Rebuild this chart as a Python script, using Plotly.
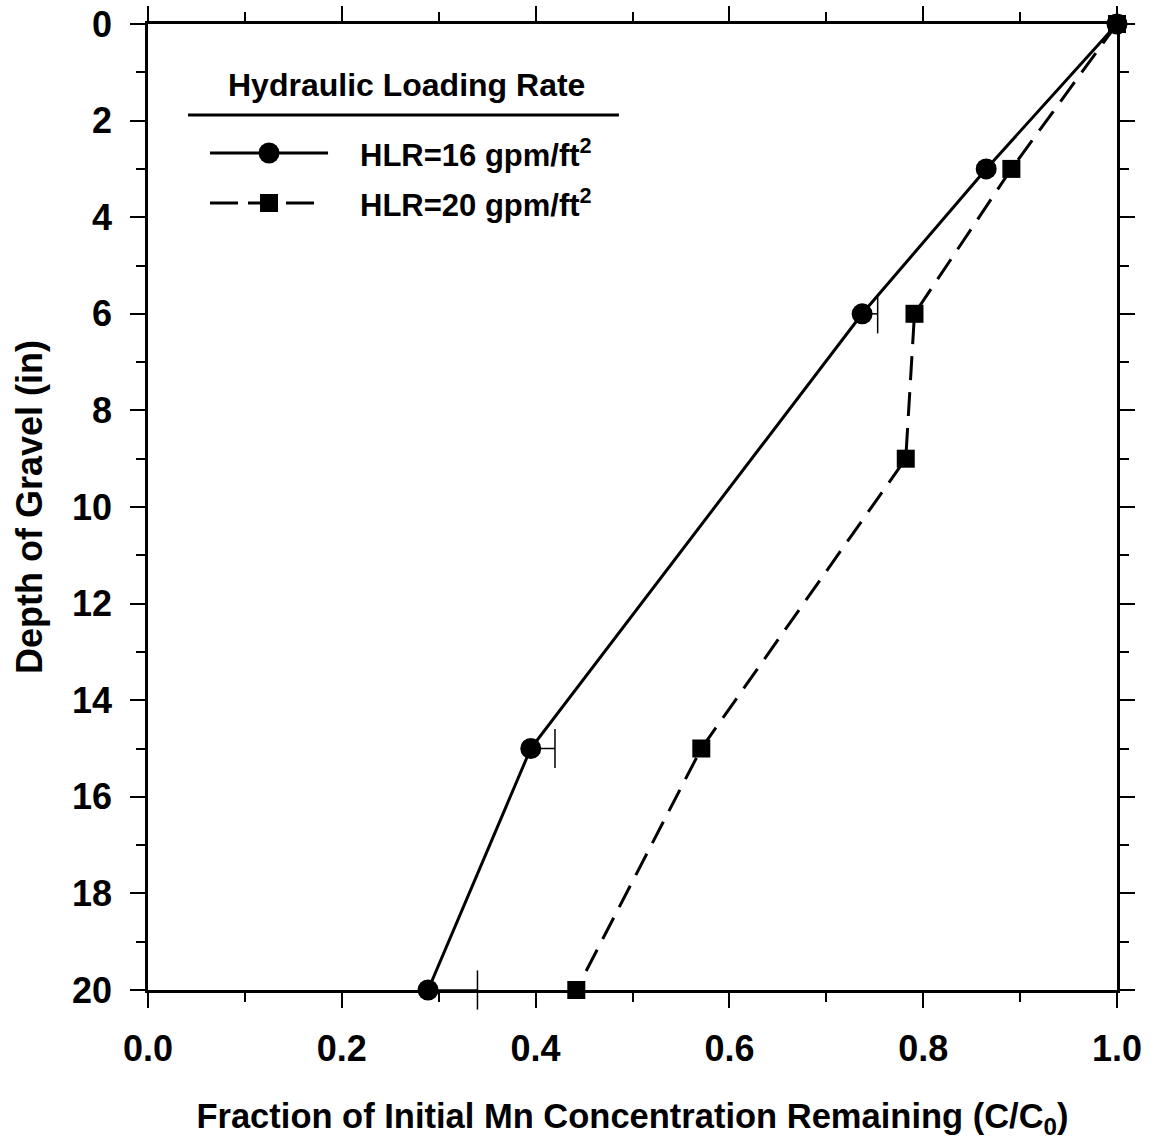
import plotly.graph_objects as go

# ---- data ----
depth_16 = [0, 3, 6, 15, 20]
frac_16 = [1.0, 0.865, 0.737, 0.395, 0.289]
err_16 = [0.0, 0.0, 0.016, 0.025, 0.051]

depth_20 = [0, 3, 6, 9, 15, 20]
frac_20 = [1.0, 0.891, 0.791, 0.782, 0.571, 0.442]

x_ticks = [0.0, 0.2, 0.4, 0.6, 0.8, 1.0]
x_ticklabels = ["0.0", "0.2", "0.4", "0.6", "0.8", "1.0"]
y_ticks = list(range(0, 21, 2))
y_ticklabels = [str(v) for v in y_ticks]

legend_title = "Hydraulic Loading Rate"
name_16 = "HLR=16 gpm/ft<sup>2</sup>"
name_20 = "HLR=20 gpm/ft<sup>2</sup>"

FONT = "Liberation Sans"
BLACK = "black"

fig = go.Figure()

# error bars (plus direction only) built from data
ex, ey, cx, cy = [], [], [], []
for d, f, e in zip(depth_16, frac_16, err_16):
    if e > 0:
        ex += [f, f + e, None]
        ey += [d, d, None]
        cx.append(f + e)
        cy.append(d)
fig.add_trace(go.Scatter(x=ex, y=ey, mode="lines", line=dict(color=BLACK, width=1.5),
                         showlegend=False, hoverinfo="skip", cliponaxis=False))
fig.add_trace(go.Scatter(x=cx, y=cy, mode="markers",
                         marker=dict(symbol="line-ns-open", size=28, color=BLACK,
                                     line=dict(color=BLACK, width=1.5)),
                         showlegend=False, hoverinfo="skip", cliponaxis=False))

fig.add_trace(go.Scatter(x=frac_16, y=depth_16, mode="lines+markers", name=name_16,
                         line=dict(color=BLACK, width=3),
                         marker=dict(symbol="circle", size=21, color=BLACK),
                         showlegend=False, cliponaxis=False))
fig.add_trace(go.Scatter(x=frac_20, y=depth_20, mode="lines+markers", name=name_20,
                         line=dict(color=BLACK, width=3, dash="24px,12px"),
                         marker=dict(symbol="square", size=18, color=BLACK),
                         showlegend=False, cliponaxis=False))

axis_common = dict(
    showline=True, linecolor=BLACK, linewidth=2.5, mirror="allticks",
    ticks="outside", ticklen=15, tickwidth=2, tickcolor=BLACK,
    showgrid=False, zeroline=False, automargin=False,
    tickfont=dict(family=FONT, size=36, color=BLACK, weight="bold"),
)

fig.update_xaxes(
    range=[0, 1], tickvals=x_ticks, ticktext=x_ticklabels,
    minor=dict(dtick=0.1, ticks="outside", ticklen=9, tickwidth=2, tickcolor=BLACK, showgrid=False),
    ticklabelstandoff=10,
    title=dict(text="Fraction of Initial Mn Concentration Remaining (C/C<sub>0</sub>)",
               font=dict(family=FONT, size=34.5, color=BLACK, weight="bold"), standoff=36),
    **axis_common,
)
fig.update_yaxes(
    range=[20, 0], tickvals=y_ticks, ticktext=y_ticklabels,
    minor=dict(dtick=1, ticks="outside", ticklen=9, tickwidth=2, tickcolor=BLACK, showgrid=False),
    ticklabelstandoff=11,
    title=dict(text="Depth of Gravel (in)",
               font=dict(family=FONT, size=36, color=BLACK, weight="bold"), standoff=19),
    **axis_common,
)

# ---- custom legend (paper coordinates) ----
lf = dict(family=FONT, size=31, color=BLACK, weight="bold")
fig.add_annotation(xref="paper", yref="paper", x=0.2668, y=0.9369, text=legend_title,
                   showarrow=False, font=dict(family=FONT, size=32, color=BLACK, weight="bold"),
                   xanchor="center", yanchor="middle")
fig.add_shape(type="line", xref="paper", yref="paper", x0=0.0413, x1=0.486, y0=0.9058, y1=0.9058,
              line=dict(color=BLACK, width=3))
# entry 1
fig.add_shape(type="line", xref="paper", yref="paper", x0=0.064, x1=0.1858, y0=0.8665, y1=0.8665,
              line=dict(color=BLACK, width=3))
fig.add_shape(type="circle", xref="paper", yref="paper", xsizemode="pixel", ysizemode="pixel",
              xanchor=0.1249, yanchor=0.8665, x0=-10.5, x1=10.5, y0=-10.5, y1=10.5,
              fillcolor=BLACK, line=dict(color=BLACK, width=0))
fig.add_annotation(xref="paper", yref="paper", x=0.2167, y=0.8665, text=name_16,
                   showarrow=False, font=lf, xanchor="left", yanchor="middle")
# entry 2
fig.add_shape(type="line", xref="paper", yref="paper", x0=0.064, x1=0.172, y0=0.8147, y1=0.8147,
              line=dict(color=BLACK, width=3, dash="28px,10px"))
fig.add_shape(type="rect", xref="paper", yref="paper", xsizemode="pixel", ysizemode="pixel",
              xanchor=0.1249, yanchor=0.8147, x0=-9, x1=9, y0=-9, y1=9,
              fillcolor=BLACK, line=dict(color=BLACK, width=0))
fig.add_annotation(xref="paper", yref="paper", x=0.2167, y=0.8147, text=name_20,
                   showarrow=False, font=lf, xanchor="left", yanchor="middle")

fig.update_layout(
    width=1151, height=1141,
    margin=dict(l=148, r=34, t=24, b=151, autoexpand=False),
    plot_bgcolor="white", paper_bgcolor="white",
    showlegend=False,
    font=dict(family=FONT, color=BLACK),
)

fig.write_html("out.html")
